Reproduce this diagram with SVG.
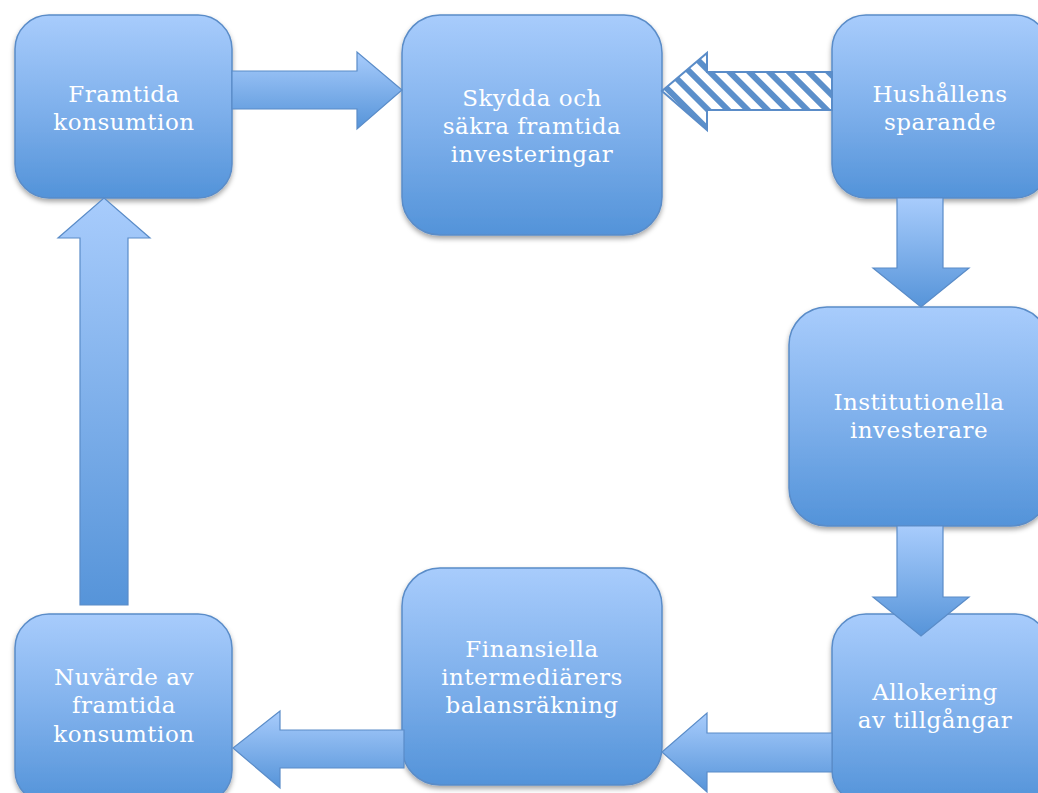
<svg xmlns="http://www.w3.org/2000/svg" width="1038" height="793" viewBox="0 0 1038 793">
<style>
.box{fill:url(#gBox);stroke:#5A8CC8;stroke-width:1.5;filter:url(#sh)}
.arr{fill:url(#gArr);stroke:#5A8CC8;stroke-width:1.2;stroke-linejoin:miter}
.hatch{fill:url(#stripes);stroke:#5A8CC8;stroke-width:2}
.lbl{font-family:"DejaVu Serif","Liberation Serif",serif;font-size:23px;letter-spacing:0.5px;fill:#ffffff;text-anchor:middle}
</style>
<defs>
<linearGradient id="gBox" x1="0" y1="0" x2="0" y2="1">
<stop offset="0" stop-color="#A8CCFC"/>
<stop offset="0.5" stop-color="#80B1EC"/>
<stop offset="1" stop-color="#5393D9"/>
</linearGradient>
<linearGradient id="gArr" x1="0" y1="0" x2="0" y2="1">
<stop offset="0" stop-color="#A8CCFC"/>
<stop offset="1" stop-color="#5694D9"/>
</linearGradient>
<pattern id="stripes" patternUnits="userSpaceOnUse" width="14" height="14" patternTransform="rotate(-45)">
<rect width="14" height="14" fill="#ffffff"/>
<rect width="6" height="14" fill="#5B8FCA"/>
</pattern>
<filter id="sh" x="-10%" y="-10%" width="120%" height="125%">
<feDropShadow dx="0" dy="3" stdDeviation="2.5" flood-color="#000" flood-opacity="0.35"/>
</filter>
</defs>
<g id="node-framtida">
<rect class="box" x="15" y="15" width="217" height="183" rx="34"/>
<text class="lbl" x="124" y="102">Framtida</text>
<text class="lbl" x="124" y="130">konsumtion</text>
</g>
<g id="node-skydda">
<rect class="box" x="402" y="15" width="260" height="220" rx="38"/>
<text class="lbl" x="532" y="106">Skydda och</text>
<text class="lbl" x="532" y="134">säkra framtida</text>
<text class="lbl" x="532" y="162">investeringar</text>
</g>
<g id="node-hushall">
<rect class="box" x="832" y="15" width="217" height="183" rx="34"/>
<text class="lbl" x="940" y="102">Hushållens</text>
<text class="lbl" x="940" y="130">sparande</text>
</g>
<g id="node-institutionella">
<rect class="box" x="789" y="307" width="260" height="219" rx="38"/>
<text class="lbl" x="919" y="410">Institutionella</text>
<text class="lbl" x="919" y="438">investerare</text>
</g>
<g id="node-allokering">
<rect class="box" x="832" y="614" width="217" height="190" rx="34"/>
<text class="lbl" x="935" y="700">Allokering</text>
<text class="lbl" x="935" y="728">av tillgångar</text>
</g>
<g id="node-finansiella">
<rect class="box" x="402" y="568" width="260" height="217" rx="38"/>
<text class="lbl" x="532" y="657">Finansiella</text>
<text class="lbl" x="532" y="685">intermediärers</text>
<text class="lbl" x="532" y="713">balansräkning</text>
</g>
<g id="node-nuvarde">
<rect class="box" x="15" y="614" width="217" height="190" rx="34"/>
<text class="lbl" x="124" y="685">Nuvärde av</text>
<text class="lbl" x="124" y="713">framtida</text>
<text class="lbl" x="124" y="742">konsumtion</text>
</g>
<g id="connectors">
<polygon class="arr" points="232,71 357,71 357,52 402,90 357,129 357,109 232,109"/>
<polygon class="hatch" points="832,72 707,72 707,53 662,91 707,130 707,110 832,110"/>
<polygon class="arr" points="897,198 943,198 943,268 969,268 921,307 873,268 897,268"/>
<polygon class="arr" points="897,526 943,526 943,597 969,597 921,636 873,597 897,597"/>
<polygon class="arr" points="832,733 707,733 707,713 662,752 707,792 707,772 832,772"/>
<polygon class="arr" points="404,730 280,730 280,711 233,748 280,788 280,768 404,768"/>
<polygon class="arr" points="80,605 128,605 128,238 150,238 104,198 58,238 80,238"/>
</g>
</svg>
